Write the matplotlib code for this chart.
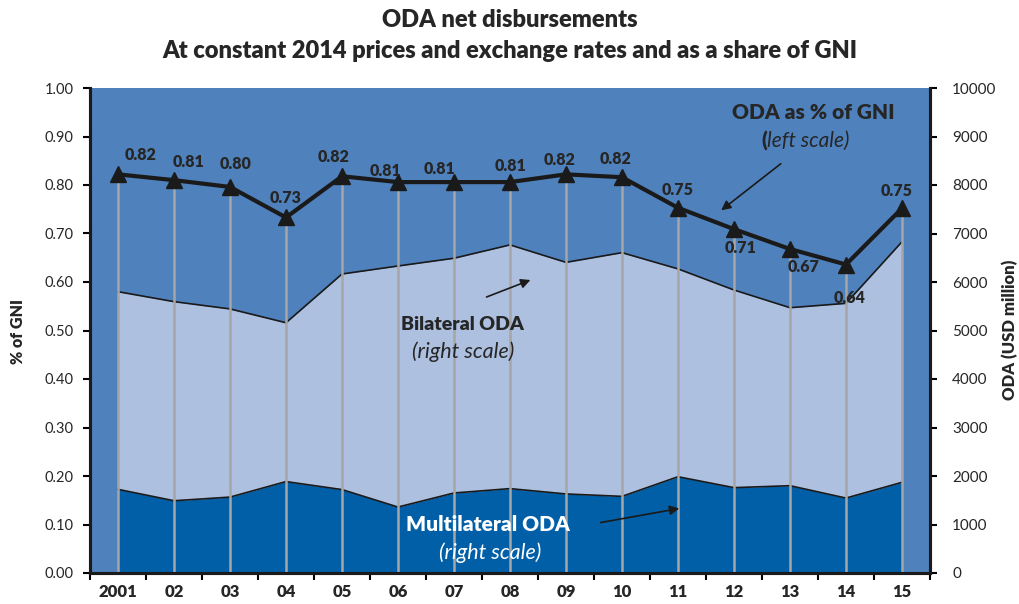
import matplotlib
matplotlib.use("Agg")
import matplotlib.pyplot as plt
import numpy as np

plt.rcParams['font.family'] = ['Lato', 'DejaVu Sans']

# ---- data ----
years = ["2001", "02", "03", "04", "05", "06", "07", "08", "09", "10", "11", "12", "13", "14", "15"]
oda_gni = [0.822, 0.810, 0.796, 0.733, 0.818, 0.806, 0.806, 0.806, 0.822, 0.816, 0.753, 0.709, 0.668, 0.636, 0.752]
multilateral = [1725, 1490, 1565, 1885, 1720, 1360, 1650, 1740, 1630, 1580, 1985, 1760, 1800, 1545, 1870]
bilateral = [4075, 4105, 3880, 3275, 4445, 4970, 4840, 5025, 4775, 5025, 4285, 4075, 3670, 4015, 4960]

# label offsets (pixels) for the % of GNI values
label_offsets = [(23, 19), (14, 18), (6, 23), (0, 19), (-8, 19), (-13, 11), (-15, 13), (0, 16),
                 (-6, 14), (-6, 18), (0, 18), (7, -19), (14, -18), (4, -33), (-5, 17)]

C_BG = '#4F81BD'
C_BI = '#AEC0E0'
C_MU = '#005FA6'
C_TXT = '#262626'

fig = plt.figure(figsize=(10.2, 6.04), dpi=100)
fig.patch.set_facecolor('white')
ax2 = fig.add_axes([90 / 1020, 31 / 604, 840 / 1020, 485 / 604])
ax = ax2.twinx()
ax.set_zorder(ax2.get_zorder() + 1)
ax.patch.set_visible(False)
ax2.set_facecolor(C_BG)

x = np.arange(len(years))
multi = np.array(multilateral, dtype=float)
total = multi + np.array(bilateral, dtype=float)

# areas on the right scale
ax2.fill_between(x, 0, multi, color=C_MU, lw=0)
ax2.fill_between(x, multi, total, color=C_BI, lw=0)
ax2.plot(x, multi, color='#1a1a1a', lw=1.2)
ax2.plot(x, total, color='#1a1a1a', lw=1.2)
ax2.set_ylim(0, 10000)
ax2.set_xlim(-0.5, len(years) - 0.5)

# left scale line
ax.vlines(x, 0, oda_gni, color='#A6A6A6', lw=1.8, zorder=2)
ax.plot(x, oda_gni, color='#1a1a1a', lw=3, marker='^', ms=11, mfc='#1a1a1a', mec='#1a1a1a', zorder=4,
        clip_on=False)
ax.set_ylim(0, 1.0)
for xi, v, (dx, dy) in zip(x, oda_gni, label_offsets):
    ax.annotate(f"{v:.2f}", (xi, v), xytext=(dx, dy), textcoords='offset pixels',
                ha='center', va='center', fontsize=11.5, fontweight='heavy', color=C_TXT, zorder=5)

ax.yaxis.tick_left()
ax.yaxis.set_label_position('left')
ax2.yaxis.tick_right()
ax2.yaxis.set_label_position('right')

ax.set_yticks(np.arange(0, 1.01, 0.1))
ax.set_yticklabels([f"{t:.2f}" for t in np.arange(0, 1.01, 0.1)])
ax2.set_yticks(np.arange(0, 10001, 1000))
ax2.set_yticklabels([f"{int(t)}" for t in np.arange(0, 10001, 1000)])

ax.tick_params(axis='y', which='major', direction='out', length=5, width=1.5, pad=7,
               labelsize=10.5, labelcolor=C_TXT, left=True, right=False, labelleft=True, labelright=False)
ax2.tick_params(axis='y', which='major', direction='out', length=5, width=1.5, pad=11,
                labelsize=11, labelcolor=C_TXT, left=False, right=True, labelleft=False, labelright=True)

# x ticks (on the base axes): marks at boundaries, labels at centres
ax2.set_xticks(np.arange(-0.5, len(years), 1.0))
ax2.set_xticklabels([])
ax2.set_xticks(x, minor=True)
ax2.set_xticklabels(years, minor=True)
ax2.tick_params(axis='x', which='major', direction='out', length=5, width=1.5)
ax2.tick_params(axis='x', which='minor', length=0, pad=8, labelsize=12, labelcolor=C_TXT)
for lab in ax2.xaxis.get_minorticklabels():
    lab.set_fontweight('heavy')

for a in (ax, ax2):
    a.spines['top'].set_visible(False)
    for s in ('left', 'right', 'bottom'):
        a.spines[s].set_color('#1a1a1a')
        a.spines[s].set_linewidth(2.2)

fig.text(18 / 1020, 1 - 332 / 604, "% of GNI", rotation=90, ha='center', va='center',
         fontsize=11.5, fontweight='heavy', color=C_TXT)
fig.text(1010 / 1020, 1 - 330 / 604, "ODA (USD million)", rotation=90, ha='center', va='center',
         fontsize=12, fontweight='heavy', color=C_TXT)

# titles
fig.text(0.5, 1 - 20 / 604, "ODA net disbursements", ha='center', va='center',
         fontsize=17, fontweight='heavy', color=C_TXT)
fig.text(0.5, 1 - 51 / 604, "At constant 2014 prices and exchange rates and as a share of GNI",
         ha='center', va='center', fontsize=17, fontweight='heavy', color=C_TXT)

# annotations (axes fraction coordinates)
T = ax.transAxes
ax.text(0.8613, 0.9485, "ODA as % of GNI", transform=T, ha='center', va='center',
        fontsize=15, fontweight='heavy', color=C_TXT, zorder=6)
ax.text(0.806, 0.8907, "(", transform=T, ha='right', va='center', fontsize=15, fontweight='heavy',
        color=C_TXT, zorder=6)
ax.text(0.806, 0.8907, "left scale)", transform=T, ha='left', va='center', fontsize=15,
        style='italic', color=C_TXT, zorder=6)
ax.annotate("", xy=(0.7488, 0.7443), xytext=(0.825, 0.8474), xycoords=T, textcoords=T,
            arrowprops=dict(arrowstyle='-|>', color='#1a1a1a', lw=1.2, mutation_scale=14), zorder=6)

ax.text(0.4429, 0.5134, "Bilateral ODA", transform=T, ha='center', va='center',
        fontsize=14, fontweight='heavy', color=C_TXT, zorder=6)
ax.text(0.4440, 0.4557, "(right scale)", transform=T, ha='center', va='center',
        fontsize=15.5, style='italic', color=C_TXT, zorder=6)
ax.annotate("", xy=(0.5274, 0.6062), xytext=(0.4690, 0.5670), xycoords=T, textcoords=T,
            arrowprops=dict(arrowstyle='-|>', color='#1a1a1a', lw=1.2, mutation_scale=14), zorder=6)

ax.text(0.4738, 0.0990, "Multilateral ODA", transform=T, ha='center', va='center',
        fontsize=15, fontweight='heavy', color='white', zorder=6)
ax.text(0.4762, 0.0412, "(right scale)", transform=T, ha='center', va='center',
        fontsize=15.5, style='italic', color='white', zorder=6)
ax.annotate("", xy=(0.7048, 0.1340), xytext=(0.6048, 0.1031), xycoords=T, textcoords=T,
            arrowprops=dict(arrowstyle='-|>', color='#1a1a1a', lw=1.2, mutation_scale=14), zorder=6)

fig.savefig("out.png", dpi=100, facecolor='white')
